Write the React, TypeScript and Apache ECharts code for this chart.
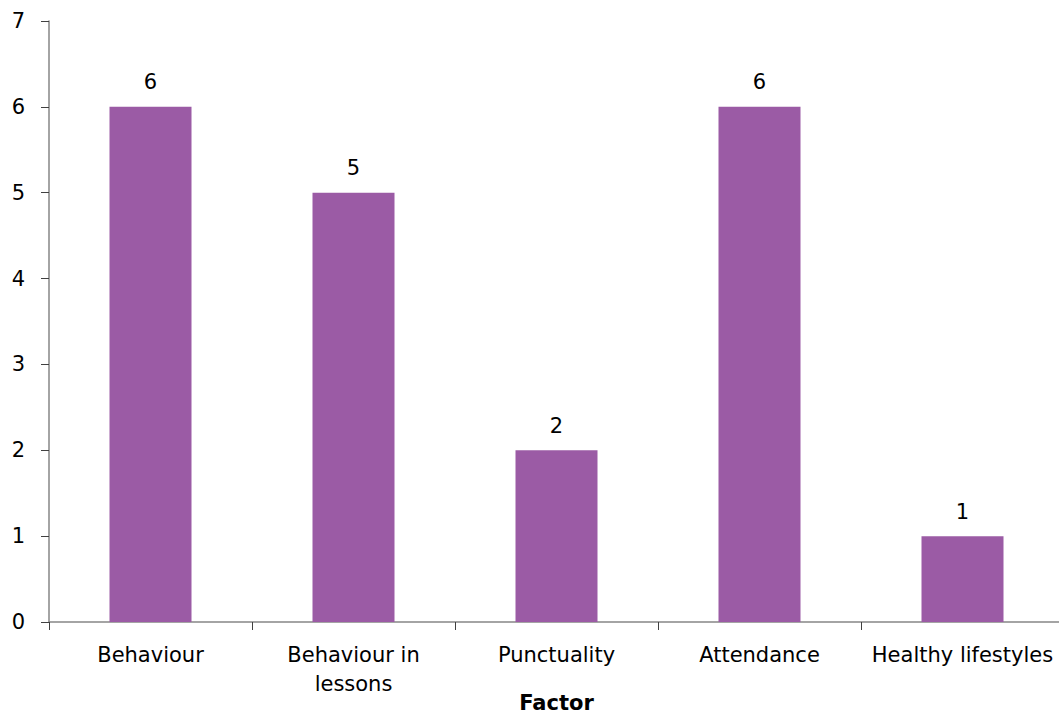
import React, { useEffect, useRef } from "react";
import * as echarts from "echarts";

const categories = ["Behaviour", "Behaviour in\nlessons", "Punctuality", "Attendance", "Healthy lifestyles"];
const values = [6, 5, 2, 6, 1];
const xAxisTitle = "Factor";
const yMin = 0;
const yMax = 7;
const yInterval = 1;

export default function App() {
  const ref = useRef<HTMLDivElement>(null);
  useEffect(() => {
    if (!ref.current) return;
    const chart = echarts.init(ref.current, null, { renderer: "svg", width: 1059, height: 720 });
    const font = "'DejaVu Sans', Verdana, sans-serif";
    chart.setOption({
      animation: false,
      backgroundColor: "#ffffff",
      grid: {
        left: 49,
        top: 21,
        width: 1015,
        height: 601,
        containLabel: false,
        outerBoundsMode: "none",
      },
      xAxis: {
        type: "category",
        data: categories,
        name: xAxisTitle,
        nameLocation: "middle",
        nameGap: 70,
        nameMoveOverlap: false,
        nameTextStyle: { fontFamily: font, fontSize: 21, fontWeight: "bold", color: "#000" },
        axisLine: { show: true, lineStyle: { color: "#868686", width: 1.5 } },
        axisTick: { show: true, alignWithLabel: false, length: 8, lineStyle: { color: "#404040", width: 1 } },
        axisLabel: { fontFamily: font, fontSize: 21, color: "#000", margin: 18, lineHeight: 29, interval: 0 },
        splitLine: { show: false },
      },
      yAxis: {
        type: "value",
        min: yMin,
        max: yMax,
        interval: yInterval,
        axisLine: { show: true, lineStyle: { color: "#868686", width: 1.5 } },
        axisTick: { show: true, inside: false, length: 8, lineStyle: { color: "#404040", width: 1 } },
        axisLabel: { fontFamily: font, fontSize: 21, color: "#000", margin: 24 },
        splitLine: { show: false },
      },
      series: [
        {
          type: "bar",
          data: values,
          barWidth: 82,
          itemStyle: { color: "#9B5BA5" },
          label: {
            show: true,
            position: "top",
            distance: 14,
            fontFamily: font,
            fontSize: 21,
            color: "#000",
          },
        },
      ],
    });
    return () => chart.dispose();
  }, []);
  return (
    <div
      ref={ref}
      style={{ position: "fixed", left: 0, top: 0, width: 1059, height: 720, background: "#fff" }}
    />
  );
}
